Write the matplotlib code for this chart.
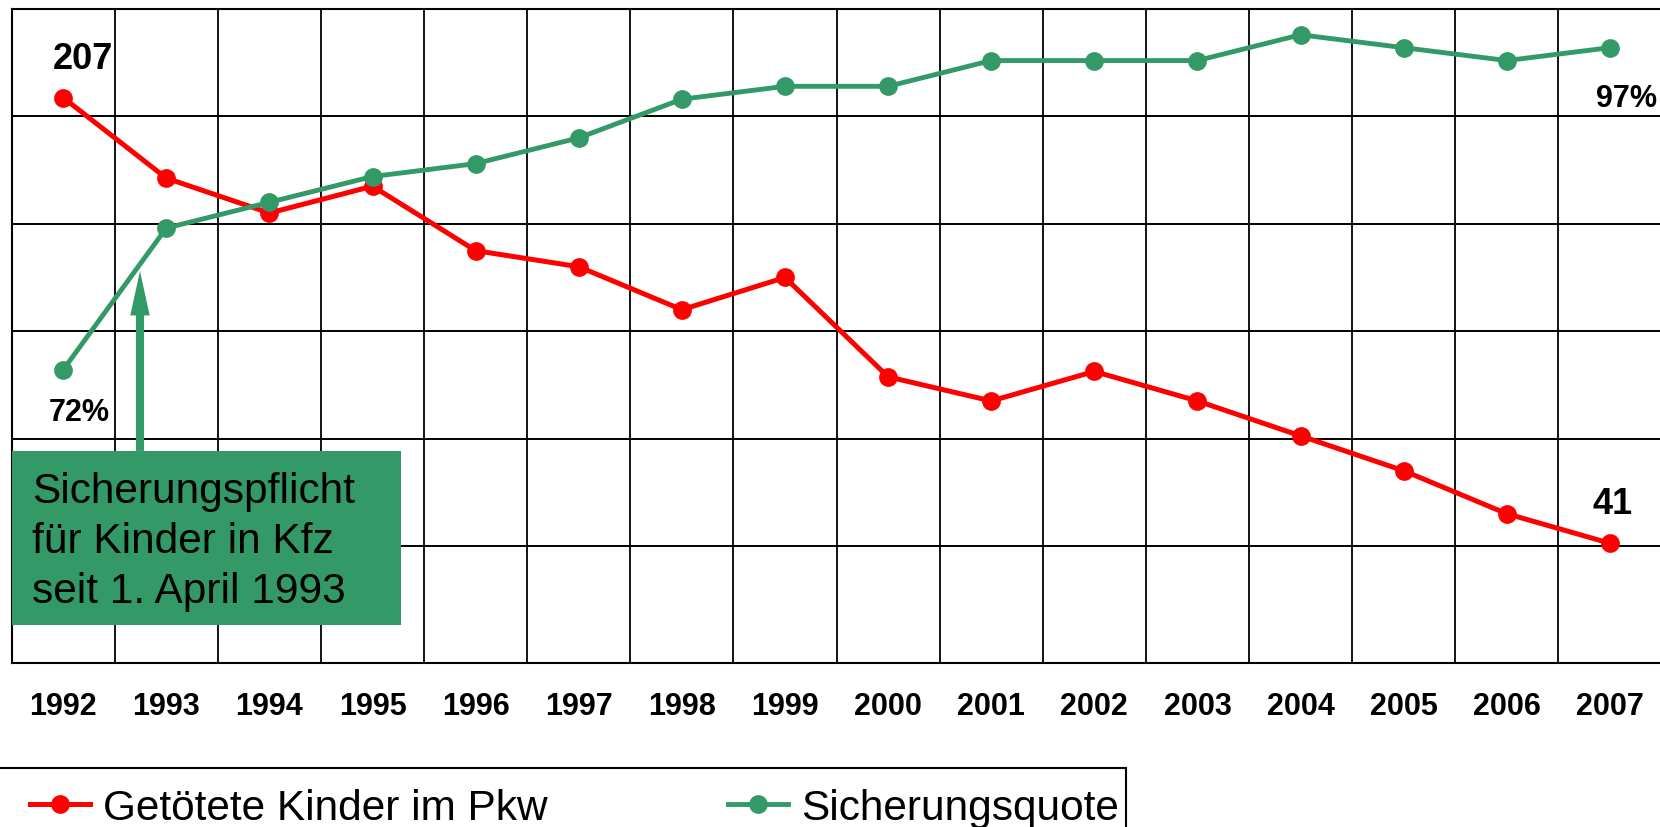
import matplotlib
matplotlib.use('Agg')
from matplotlib import pyplot as plt
from matplotlib.patches import Rectangle

# data
years = list(range(1992, 2008))
getoetete = [207, 177, 164, 174, 150, 144, 128, 140, 103, 94, 105, 94, 81, 68, 52, 41]
quote = [72, 83, 85, 87, 88, 90, 93, 94, 94, 96, 96, 96, 98, 97, 96, 97]
box_lines = ['Sicherungspflicht', 'für Kinder in Kfz', 'seit 1. April 1993']

RED = '#ff0000'
GREEN = '#339966'

plt.rcParams['font.family'] = ['Liberation Sans', 'DejaVu Sans']

W, H = 1660, 828
fig = plt.figure(figsize=(W / 100, H / 100), dpi=100)
ax = fig.add_axes([11.6 / W, (H - 664) / H, (W + 1.5 - 11.6) / W, 654 / H])
ax2 = ax.twinx()

ymin = -3.6
ax.set_xlim(1991.5, 2007.5)
ax.set_ylim(ymin, 240)
ax2.set_ylim(50 + ymin * 50 / 240, 100)

# grid between the years
ax.set_xticks(years)
ax.set_xticks([y + 0.5 for y in years[:-1]], minor=True)
ax.set_yticks([40, 80, 120, 160, 200])
ax.set_yticklabels([])
ax.tick_params(axis='y', length=0)
ax.tick_params(axis='x', which='both', length=0, pad=20, labelsize=22)
for lbl in ax.get_xticklabels():
    lbl.set_fontweight('bold')
ax.grid(True, which='minor', axis='x', color='black', lw=1.3)
ax.grid(True, which='major', axis='y', color='black', lw=1.4)
ax.set_axisbelow(True)
for s in ax.spines.values():
    s.set_color('black')
    s.set_linewidth(1.5)
ax2.axis('off')

l1, = ax.plot(years, getoetete, color=RED, lw=3.6, marker='o', ms=13.5, mew=0,
              label='Getötete Kinder im Pkw', zorder=3)
l2, = ax2.plot(years, quote, color=GREEN, lw=3.5, marker='o', ms=13.5, mew=0,
               label='Sicherungsquote', zorder=3)

ax.annotate('207', (years[0], getoetete[0]), xytext=(14.4, 21.6), textcoords='offset points',
            ha='center', va='baseline', fontsize=26, fontweight='bold')
ax.annotate('41', (years[-1], getoetete[-1]), xytext=(2.2, 21.6), textcoords='offset points',
            ha='center', va='baseline', fontsize=26, fontweight='bold')
ax2.annotate('72%', (years[0], quote[0]), xytext=(11.5, -36), textcoords='offset points',
             ha='center', va='baseline', fontsize=22, fontweight='bold')
ax2.annotate('97%', (years[-1], quote[-1]), xytext=(12.2, -41.8), textcoords='offset points',
             ha='center', va='baseline', fontsize=22, fontweight='bold', annotation_clip=False)

# green note box with arrow
box = Rectangle((12 / W, (H - 626) / H), 389 / W, 174 / H, transform=fig.transFigure,
                facecolor=GREEN, edgecolor='none', zorder=3)
ax.add_patch(box)
for i, txt in enumerate(box_lines):
    ax.text(32 / W, (H - 503 - 50 * i) / H, txt, transform=fig.transFigure,
            fontsize=30.5, ha='left', va='baseline', zorder=4)
ax.annotate('', xy=(1992.745, 142.4), xytext=(1992.745, 75.4),
            arrowprops=dict(width=5.8, headwidth=14, headlength=32, shrink=0,
                            facecolor=GREEN, edgecolor='none'))

# legend
fig.legend([l1, l2], [l1.get_label(), l2.get_label()], loc='upper left',
           bbox_to_anchor=(30 / W, (H - 789) / H), ncol=2, frameon=False, fontsize=30.5,
           handlelength=1.41, handletextpad=0.32, columnspacing=4.25,
           borderpad=0, borderaxespad=0)
frame = Rectangle((-2 / W, -0.2), 1128 / W, (H - 769) / H + 0.2, transform=fig.transFigure,
                  fill=False, edgecolor='black', lw=1.5)
fig.add_artist(frame)

fig.savefig('out.png', dpi=100)
